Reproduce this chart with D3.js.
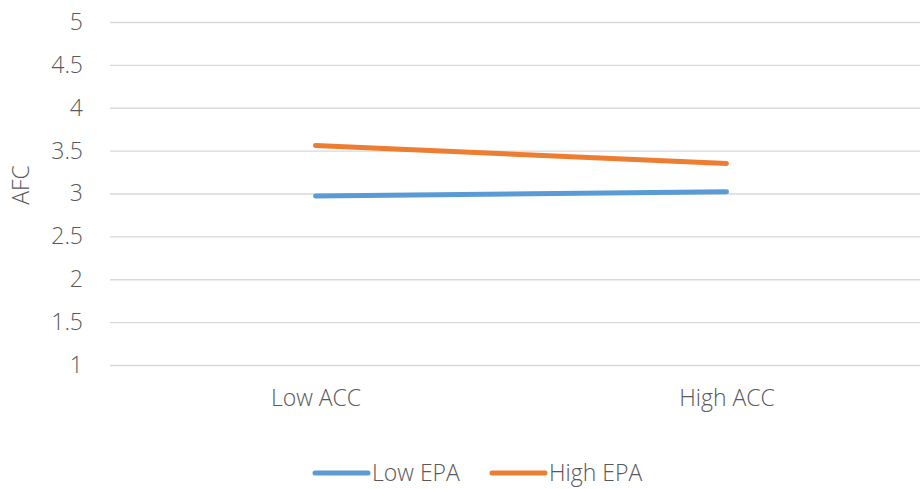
<!DOCTYPE html>
<html><head><meta charset="utf-8">
<script src="https://cdn.jsdelivr.net/npm/d3@7"></script>
<style>body{margin:0;background:#fff}text{font-family:"Open Sans",sans-serif;fill:#595959;font-weight:300}</style>
</head><body><svg id="c" width="920" height="489"></svg>
<script>
const categories = ["Low ACC", "High ACC"];
const seriesNames = ["Low EPA", "High EPA"];
const lowEPA = [2.97, 3.02];
const highEPA = [3.56, 3.35];
const yTicks = [1, 1.5, 2, 2.5, 3, 3.5, 4, 4.5, 5];
const colors = ["#5B9BD5", "#ED7D31"];
const series = [lowEPA, highEPA];
const FS = 23;

const svg = d3.select("#c");
const x = d3.scalePoint().domain(categories).range([110, 932]).padding(0.5);
const y = d3.scaleLinear().domain([1, 5]).range([365, 22]);

const gy = svg.append("g").attr("transform", "translate(110,0)")
  .call(d3.axisLeft(y).tickValues(yTicks).tickSize(-810).tickPadding(27).tickFormat(d3.format("")));
gy.select(".domain").remove();
gy.selectAll(".tick line").attr("stroke", "#D9D9D9").attr("stroke-width", 1.3);
gy.selectAll(".tick text").attr("font-size", FS).attr("fill", "#595959").style("font-family", "'Open Sans',sans-serif").style("font-weight", 300);

const gx = svg.append("g").attr("transform", "translate(0,365)")
  .call(d3.axisBottom(x).tickSize(0).tickPadding(25));
gx.select(".domain").remove();
gx.selectAll(".tick text").attr("font-size", FS).attr("fill", "#595959").style("font-family", "'Open Sans',sans-serif").style("font-weight", 300);

svg.append("text").attr("transform", "translate(29,185) rotate(-90)")
  .attr("text-anchor", "middle").attr("font-size", FS).text("AFC");

const line = d3.line().x((d, i) => x(categories[i])).y(d => y(d));
series.forEach((s, k) => {
  svg.append("path").datum(s).attr("d", line).attr("fill", "none")
    .attr("stroke", colors[k]).attr("stroke-width", 5).attr("stroke-linecap", "round");
});

const legX = [313, 490];
seriesNames.forEach((n, k) => {
  const g = svg.append("g").attr("transform", `translate(${legX[k]},473)`);
  g.append("line").attr("x1", 2).attr("x2", 55).attr("stroke", colors[k]).attr("stroke-width", 5).attr("stroke-linecap", "round");
  g.append("text").attr("x", 59).attr("y", 8).attr("font-size", FS).text(n);
});
</script></body></html>
